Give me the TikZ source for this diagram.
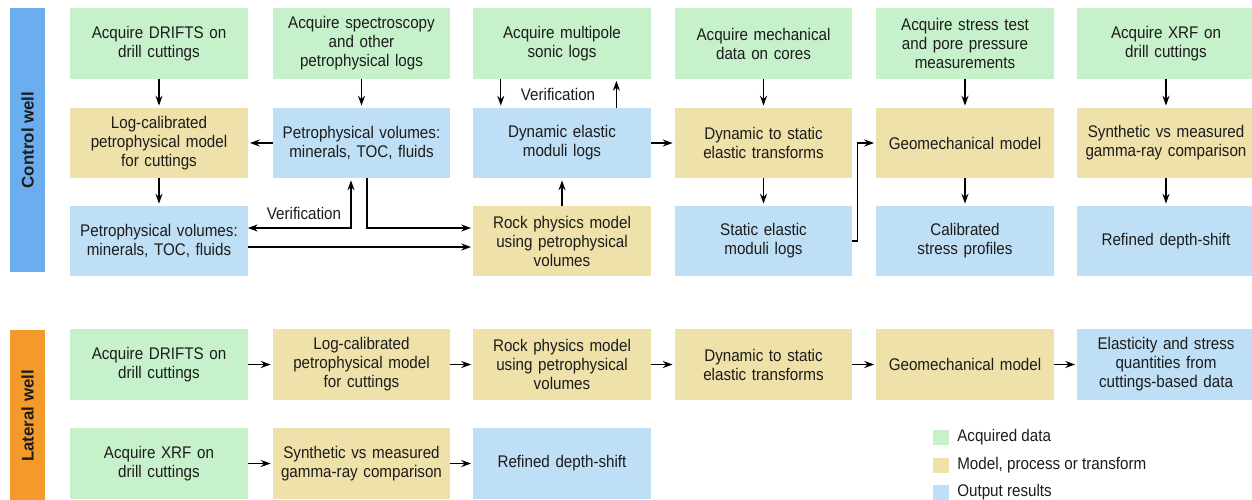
\documentclass[tikz,border=0pt]{standalone}
\usepackage{fontspec}
\setmainfont{Liberation Sans}[FakeStretch=0.9]
\newfontfamily\wellfont{Liberation Sans}
\usetikzlibrary{arrows.meta}
\definecolor{acqgreen}{HTML}{C6F1CB}
\definecolor{mdltan}{HTML}{EEE1A9}
\definecolor{resblue}{HTML}{BFDFF6}
\definecolor{ctrlblue}{HTML}{6BAEEF}
\definecolor{latorange}{HTML}{F39A2B}
\definecolor{txt}{HTML}{1C1C1C}

\begin{document}
\begin{tikzpicture}[x=0.025cm,y=-0.025cm,
        >={Stealth[length=7pt,width=5pt]},
        box/.style={minimum width=4.425cm,minimum height=1.75cm,inner sep=0pt,text width=4.35cm,align=center,text=txt,font=\fontsize{12}{13.5}\selectfont},
        acq/.style={box,fill=acqgreen},
        mdl/.style={box,fill=mdltan},
        res/.style={box,fill=resblue},
        well/.style={rotate=90,minimum height=0.875cm,inner sep=0pt,text=txt,font=\wellfont\bfseries\fontsize{12}{14}\selectfont},
        link/.style={->,line width=0.8pt,shorten >=1.5pt},
        note/.style={inner sep=1pt,text=txt,font=\fontsize{12}{13.5}\selectfont},
        key/.style={minimum width=0.4cm,minimum height=0.375cm,inner sep=0pt},
        keytext/.style={anchor=west,inner sep=0pt,text=txt,font=\fontsize{12}{13.5}\selectfont}]

        \useasboundingbox (0,0) rectangle (1252,500);

        \node[well,fill=ctrlblue,minimum width=6.6cm] (ctrl) at (27.5,140) {Control well};
        \node[well,fill=latorange,minimum width=4.3cm] (lat) at (27.5,416) {Lateral well};

        % control well
        \node[acq] (c1a) at (159,43.5) {Acquire DRIFTS on\\drill cuttings};
        \node[acq] (c2a) at (361.5,43.5) {Acquire spectroscopy\\and other\\petrophysical logs};
        \node[acq] (c3a) at (562,43.5) {Acquire multipole\\sonic logs};
        \node[acq] (c4a) at (763.5,43.5) {Acquire mechanical\\data on cores};
        \node[acq] (c5a) at (965,43.5) {Acquire stress test\\and pore pressure\\measurements};
        \node[acq] (c6a) at (1166,43.5) {Acquire XRF on\\drill cuttings};

        \node[mdl] (c1b) at (159,143) {Log-calibrated\\petrophysical model\\for cuttings};
        \node[res] (c2b) at (361.5,143) {Petrophysical volumes:\\minerals, TOC, fluids};
        \node[res] (c3b) at (562,143) {Dynamic elastic\\moduli logs};
        \node[mdl] (c4b) at (763.5,143) {Dynamic to static\\elastic transforms};
        \node[mdl] (c5b) at (965,143) {Geomechanical model};
        \node[mdl] (c6b) at (1166,143) {Synthetic vs measured\\gamma-ray comparison};

        \node[res] (c1c) at (159,241) {Petrophysical volumes:\\minerals, TOC, fluids};
        \node[mdl] (c3c) at (562,241) {Rock physics model\\using petrophysical\\volumes};
        \node[res] (c4c) at (763.5,241) {Static elastic\\moduli logs};
        \node[res] (c5c) at (965,241) {Calibrated\\stress profiles};
        \node[res] (c6c) at (1166,241) {Refined depth-shift};

        \draw[link] (c1a) -- (c1b);
        \draw[link] (c1b) -- (c1c);
        \draw[link] (c2a) -- (c2b);
        \draw[link] (c2b) -- (c1b);

        \coordinate (vl) at (351,228);
        \draw[link,<->] (c1c.east |- vl) -- (vl) -- (vl |- c2b.south);
        \node[note] (ver1) at (304,213) {Verification};
        \coordinate (vr) at (367,228);
        \draw[link] (vr |- c2b.south) -- (vr) -- (vr -| c3c.west);
        \coordinate (vp) at (250,247);
        \draw[link] (c1c.east |- vp) -- (vp -| c3c.west);

        \draw[link] ([xshift=0.69cm]c3a.south west) -- ([xshift=0.69cm]c3b.north west);
        \draw[link] ([xshift=-0.86cm]c3b.north east) -- ([xshift=-0.86cm]c3a.south east);
        \node[note] (ver2) at (558,94) {Verification};
        \draw[link] (c3c) -- (c3b);
        \draw[link] (c3b) -- (c4b);

        \draw[link] (c4a) -- (c4b);
        \draw[link] (c4b) -- (c4c);
        \draw[link] (c4c.east) -- ++(5,0) |- (c5b);
        \draw[link] (c5a) -- (c5b);
        \draw[link] (c5b) -- (c5c);
        \draw[link] (c6a) -- (c6b);
        \draw[link] (c6b) -- (c6c);

        % lateral well
        \node[acq] (l1a) at (159,364.5) {Acquire DRIFTS on\\drill cuttings};
        \node[mdl] (l2a) at (361.5,364.5) {Log-calibrated\\petrophysical model\\for cuttings};
        \node[mdl] (l3a) at (562,364.5) {Rock physics model\\using petrophysical\\volumes};
        \node[mdl] (l4a) at (763.5,364.5) {Dynamic to static\\elastic transforms};
        \node[mdl] (l5a) at (965,364.5) {Geomechanical model};
        \node[res] (l6a) at (1166,364.5) {Elasticity and stress\\quantities from\\cuttings-based data};

        \node[acq] (l1b) at (159,463.5) {Acquire XRF on\\drill cuttings};
        \node[mdl] (l2b) at (361.5,463.5) {Synthetic vs measured\\gamma-ray comparison};
        \node[res] (l3b) at (562,463.5) {Refined depth-shift};

        \foreach \a/\b in {l1a/l2a,l2a/l3a,l3a/l4a,l4a/l5a,l5a/l6a,l1b/l2b,l2b/l3b}
            \draw[link] (\a) -- (\b);

        % legend
        \node[key,fill=acqgreen] (k1) at (941,437) {};
        \node[keytext] (t1) at (957,437) {Acquired data};
        \node[key,fill=mdltan] (k2) at (941,465) {};
        \node[keytext] (t2) at (957,465) {Model, process or transform};
        \node[key,fill=resblue] (k3) at (941,492.5) {};
        \node[keytext] (t3) at (957,492.5) {Output results};
\end{tikzpicture}
\end{document}
